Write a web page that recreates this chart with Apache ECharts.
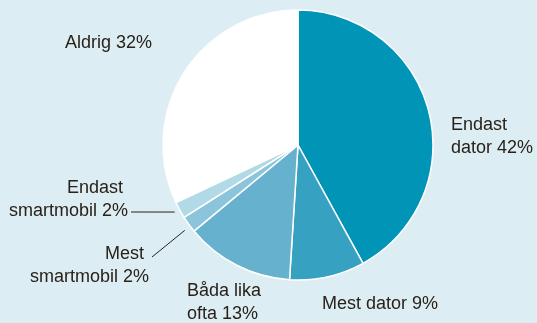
<!DOCTYPE html>
<html>
<head>
<meta charset="utf-8">
<style>
html,body{margin:0;padding:0;background:#ddedf4;}
#c{width:537px;height:323px;}
</style>
<script src="https://cdn.jsdelivr.net/npm/echarts@6/dist/echarts.min.js"></script>
</head>
<body>
<div id="c"></div>
<script>
const categories = ['Endast dator', 'Mest dator', 'Båda lika ofta', 'Mest smartmobil', 'Endast smartmobil', 'Aldrig'];
const values = [42, 9, 13, 2, 2, 32];
const labelTexts = ['Endast\ndator 42%', 'Mest dator 9%', 'Båda lika\nofta 13%', '{a|Mest}\n{b|smartmobil 2%}', '{a|Endast}\n{b|smartmobil 2%}', 'Aldrig 32%'];

const colors = ['#0095b7', '#37a1c2', '#66b1ce', '#8cc5db', '#b2d9e6', '#ffffff'];
const labelPos = [
  {x: 451, y: 137, align: 'left'},
  {x: 322, y: 304, align: 'left'},
  {x: 187, y: 303, align: 'left'},
  {x: 149, y: 266, align: 'right'},
  {x: 128, y: 200, align: 'right'},
  {x: 65, y: 43, align: 'left'}
];
// label line: [start dx, start dy] from label anchor, [end dx, end dy] from slice edge point
const lineCfg = [null, null, null,
  {s: [3, -9], e: [-4, 6]},
  {s: [3, 12], e: [-5, 2]},
  null];

const chart = echarts.init(document.getElementById('c'));
chart.setOption({
  backgroundColor: '#ddedf4',
  animation: false,
  series: [{
    type: 'pie',
    center: [298, 145],
    radius: 135,
    startAngle: 90,
    clockwise: true,
    avoidLabelOverlap: false,
    itemStyle: {borderColor: '#ffffff', borderWidth: 1.5},
    label: {
      show: true,
      position: 'outside',
      overflow: 'none',
      color: '#2a2219',
      fontFamily: 'Liberation Sans, Arial, sans-serif',
      fontSize: 18,
      lineHeight: 23,
      formatter: p => labelTexts[p.dataIndex],
      rich: {
        a: {fontSize: 18, lineHeight: 23, color: '#2a2219', fontFamily: 'Liberation Sans, Arial, sans-serif', padding: [0, 5, 0, 0]},
        b: {fontSize: 18, lineHeight: 23, color: '#2a2219', fontFamily: 'Liberation Sans, Arial, sans-serif'}
      }
    },
    labelLine: {show: true, length: 5, length2: 5, lineStyle: {color: '#2a2219', width: 1}},
    labelLayout: function (p) {
      const i = p.dataIndex;
      const lp = labelPos[i];
      const out = {x: lp.x, y: lp.y, align: lp.align, verticalAlign: 'middle', width: 200};
      const lc = lineCfg[i];
      if (lc && p.labelLinePoints) {
        const e = p.labelLinePoints[0];
        out.labelLinePoints = [[lp.x + lc.s[0], lp.y + lc.s[1]], [e[0] + lc.e[0], e[1] + lc.e[1]]];
      }
      return out;
    },
    data: categories.map((c, i) => ({
      name: c,
      value: values[i],
      itemStyle: {color: colors[i]},
      label: {textAlign: labelPos[i].align},
      labelLine: {show: !!lineCfg[i]}
    }))
  }]
});
</script>
</body>
</html>
